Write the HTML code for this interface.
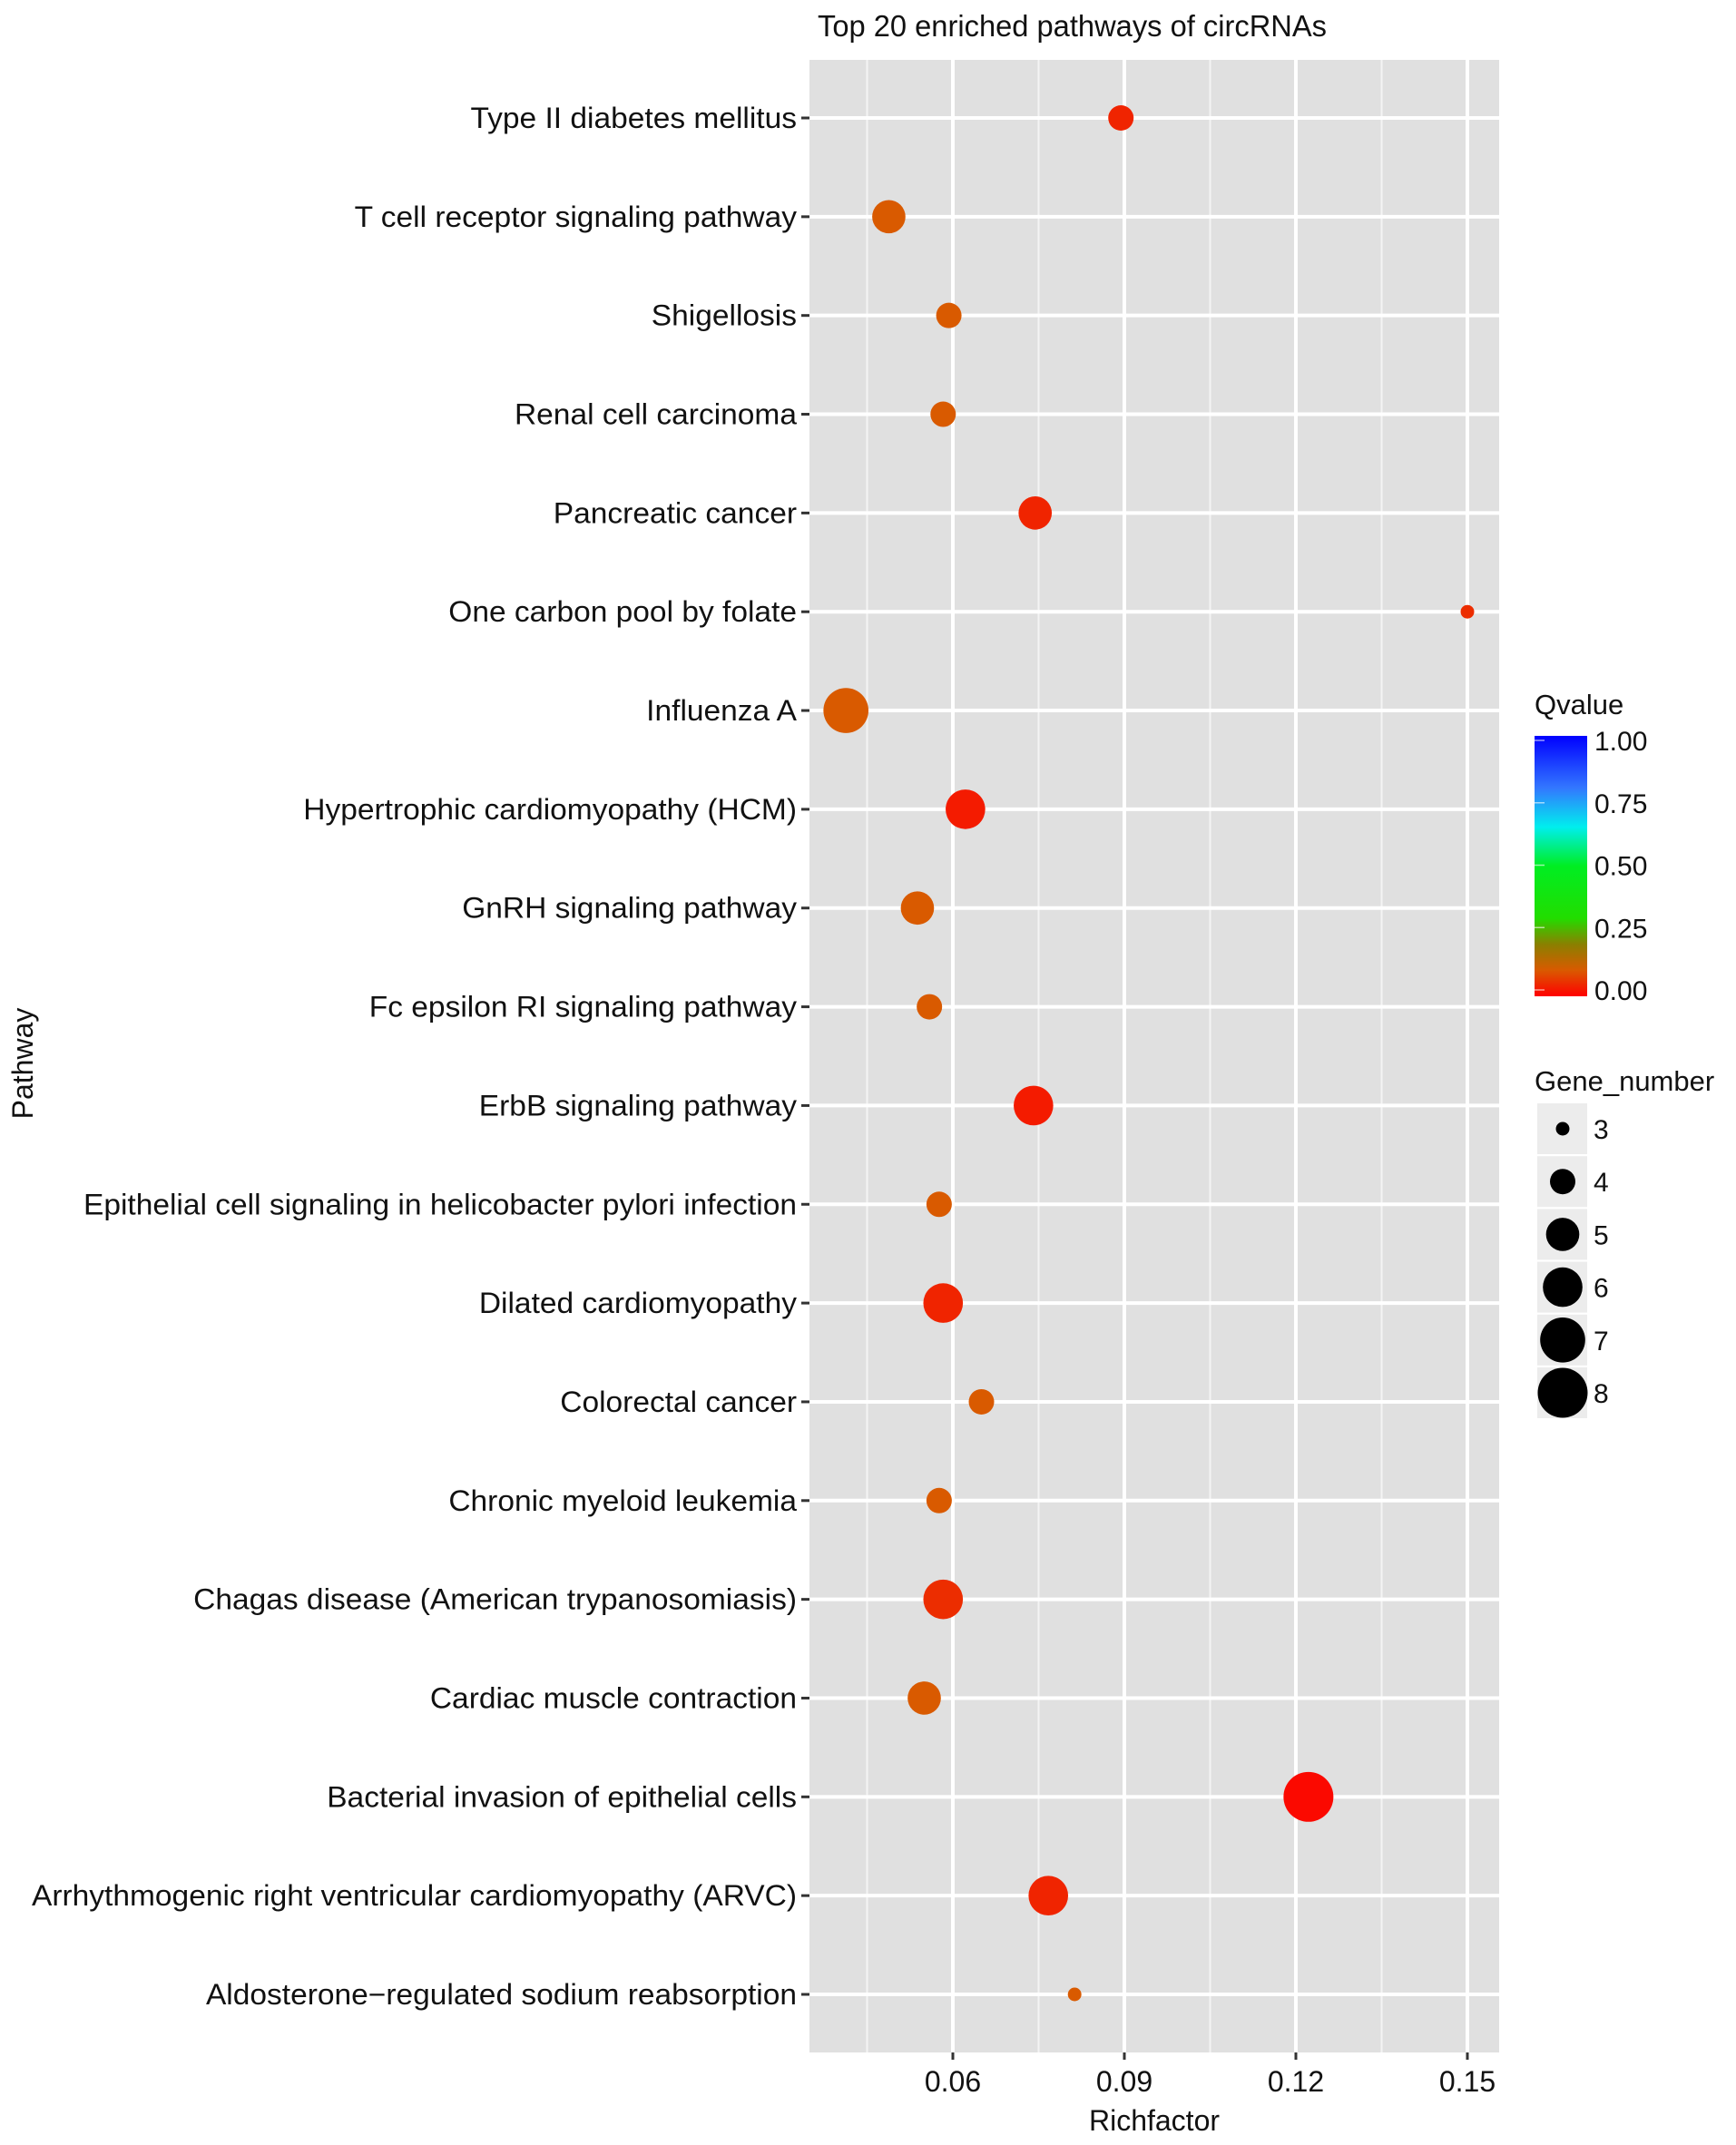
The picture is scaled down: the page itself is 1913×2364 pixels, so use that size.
<!DOCTYPE html>
<html><head><meta charset="utf-8"><style>
html,body{margin:0;padding:0;background:#fff}
svg{display:block;font-family:"Liberation Sans",Arial,sans-serif}
</style></head><body>
<svg id="chart" width="1913" height="2364" viewBox="0 0 1913 2364" xmlns="http://www.w3.org/2000/svg">
<defs>
<linearGradient id="qgrad" x1="0" y1="1" x2="0" y2="0">
<stop offset="0" stop-color="#ff0000"/><stop offset="0.1" stop-color="#d95a00"/><stop offset="0.2" stop-color="#8a8000"/><stop offset="0.3" stop-color="#22dd00"/><stop offset="0.5" stop-color="#00ee22"/><stop offset="0.65" stop-color="#00eeee"/><stop offset="0.8" stop-color="#3377ff"/><stop offset="1" stop-color="#0000ff"/>
</linearGradient>
</defs>
<text id="title" x="901" y="40" font-size="33" fill="#111">Top 20 enriched pathways of circRNAs</text>
<rect x="892" y="66" width="760" height="2196" fill="#e0e0e0"/>
<g id="grid"></g>
<g id="ylabels"></g>
<g id="xaxis"></g>
<g id="points"></g>
<text id="xtitle" x="1272" y="2348" font-size="32" text-anchor="middle" fill="#111">Richfactor</text>
<text transform="translate(36,1172) rotate(-90)" font-size="32" text-anchor="middle" fill="#111">Pathway</text>
<g>
<text x="1691" y="787" font-size="31" fill="#111">Qvalue</text>
<rect x="1691" y="811" width="58" height="287" fill="url(#qgrad)"/>
<g id="qticks"></g>
</g>
<g>
<text x="1691" y="1202" font-size="31" fill="#111">Gene_number</text>
<g id="sizekeys"></g>
</g>
</svg>
<script>
const pathways = ["Type II diabetes mellitus","T cell receptor signaling pathway","Shigellosis","Renal cell carcinoma","Pancreatic cancer","One carbon pool by folate","Influenza A","Hypertrophic cardiomyopathy (HCM)","GnRH signaling pathway","Fc epsilon RI signaling pathway","ErbB signaling pathway","Epithelial cell signaling in helicobacter pylori infection","Dilated cardiomyopathy","Colorectal cancer","Chronic myeloid leukemia","Chagas disease (American trypanosomiasis)","Cardiac muscle contraction","Bacterial invasion of epithelial cells","Arrhythmogenic right ventricular cardiomyopathy (ARVC)","Aldosterone\u2212regulated sodium reabsorption"];
const richFactor = [0.0894,0.0488,0.0593,0.0583,0.0744,0.150,0.0413,0.0622,0.0538,0.0559,0.0741,0.0576,0.0583,0.0650,0.0576,0.0583,0.0550,0.1222,0.0767,0.0813];
const geneNumber = [4,5,4,4,5,3,7,6,5,4,6,4,6,4,4,6,5,8,6,3];
const qValue = [0.04,0.1,0.1,0.1,0.04,0.05,0.1,0.03,0.1,0.1,0.03,0.1,0.04,0.1,0.1,0.05,0.1,0.01,0.04,0.1];
const xTicks = [0.06,0.09,0.12,0.15];
const xTickLabels = ["0.06","0.09","0.12","0.15"];
const qTicks = [0,0.25,0.5,0.75,1];
const qTickLabels = ["0.00","0.25","0.50","0.75","1.00"];
const sizeKeys = [3,4,5,6,7,8];

const NS="http://www.w3.org/2000/svg";
function mk(tag,attrs,parent){const e=document.createElementNS(NS,tag);for(const k in attrs)e.setAttribute(k,attrs[k]);parent.appendChild(e);return e;}
const PL=892,PR=1652,PT=66,PB=2262;
function xs(v){return 1050+(v-0.06)*6300;}
function ys(i){return 130+i*(2198-130)/(pathways.length-1);}
function rs(n){return Math.sqrt(56+(n-3)*140);}
const stops=[[0,[255,0,0]],[0.1,[217,90,0]],[0.2,[138,128,0]],[0.3,[34,221,0]],[0.5,[0,238,34]],[0.65,[0,238,238]],[0.8,[51,119,255]],[1,[0,0,255]]];
function qc(q){for(let i=1;i<stops.length;i++){if(q<=stops[i][0]){const a=stops[i-1],b=stops[i],t=(q-a[0])/(b[0]-a[0]);return "rgb("+a[1].map((c,j)=>Math.round(c+(b[1][j]-c)*t)).join(",")+")";}}return "rgb(0,0,255)";}
function qy(q){return 1091-q*(1091-816);}

const grid=document.getElementById('grid');
for(let i=0;i<xTicks.length;i++){
  const mid=xTicks[i]-0.015;
  const m=mk('line',{x1:xs(mid),x2:xs(mid),y1:PT,y2:PB,stroke:'#f4f4f4','stroke-width':2},grid);
  
  
}
for(let i=0;i<xTicks.length;i++){
  const g=mk('line',{x1:xs(xTicks[i]),x2:xs(xTicks[i]),y1:PT,y2:PB,stroke:'#fff','stroke-width':4},grid);
  
  
}
for(let i=0;i<pathways.length;i++){
  const g=mk('line',{x1:PL,x2:PR,y1:ys(i),y2:ys(i),stroke:'#fff','stroke-width':4},grid);
  
  
}
const xa=document.getElementById('xaxis');
for(let i=0;i<xTicks.length;i++){
  const t=mk('line',{x1:xs(xTicks[i]),x2:xs(xTicks[i]),y1:PB,y2:PB+8,stroke:'#333','stroke-width':3},xa);
  
  
  const l=mk('text',{x:xs(xTicks[i]),y:PB+43,'font-size':32,'text-anchor':'middle',fill:'#111'},xa);
  l.textContent=xTickLabels[i];
  
  
}
const yl=document.getElementById('ylabels');
const labels=[];
for(let i=0;i<pathways.length;i++){
  const t=mk('line',{x1:PL-9,x2:PL,y1:ys(i),y2:ys(i),stroke:'#333','stroke-width':3},yl);
  
  
  const l=mk('text',{x:PL-14,y:ys(i)+11,'font-size':32,'text-anchor':'end',fill:'#111'},yl);
  l.textContent=pathways[i];
  
  
  labels.push(l);
}
let arvc=labels[18].getComputedTextLength();
const k=arvc>0?843/arvc:1;
labels.forEach(l=>{const w=l.getComputedTextLength();if(w>0){l.setAttribute('textLength',w*k);l.setAttribute('lengthAdjust','spacingAndGlyphs');}});
const tt=document.getElementById('title');const tw=tt.getComputedTextLength();if(tw>0){tt.setAttribute('textLength',561);tt.setAttribute('lengthAdjust','spacingAndGlyphs');}

const pts=document.getElementById('points');
for(let i=0;i<pathways.length;i++){
  const c=mk('circle',{cx:xs(richFactor[i]),cy:ys(i),r:rs(geneNumber[i]),fill:qc(qValue[i])},pts);
  
  
}
const qt=document.getElementById('qticks');
for(let i=0;i<qTicks.length;i++){
  const y=qy(qTicks[i]);
  const a=mk('line',{x1:1691,x2:1702,y1:y,y2:y,stroke:'#fff','stroke-width':1.5,'stroke-opacity':0.6},qt);
  
  
  const l=mk('text',{x:1757,y:y+11,'font-size':30,fill:'#111'},qt);
  l.textContent=qTickLabels[i];
  
  
}
const sk=document.getElementById('sizekeys');
for(let i=0;i<sizeKeys.length;i++){
  const cy=1244+i*58.2;
  const b=mk('rect',{x:1694,y:cy-28,width:55,height:56,fill:'#ececec'},sk);
  
  
  const c=mk('circle',{cx:1722,cy:cy,r:rs(sizeKeys[i]),fill:'#000'},sk);
  
  
  const l=mk('text',{x:1756,y:cy+11,'font-size':30,fill:'#111'},sk);
  l.textContent=String(sizeKeys[i]);
  
  
}
</script>
</body></html>
